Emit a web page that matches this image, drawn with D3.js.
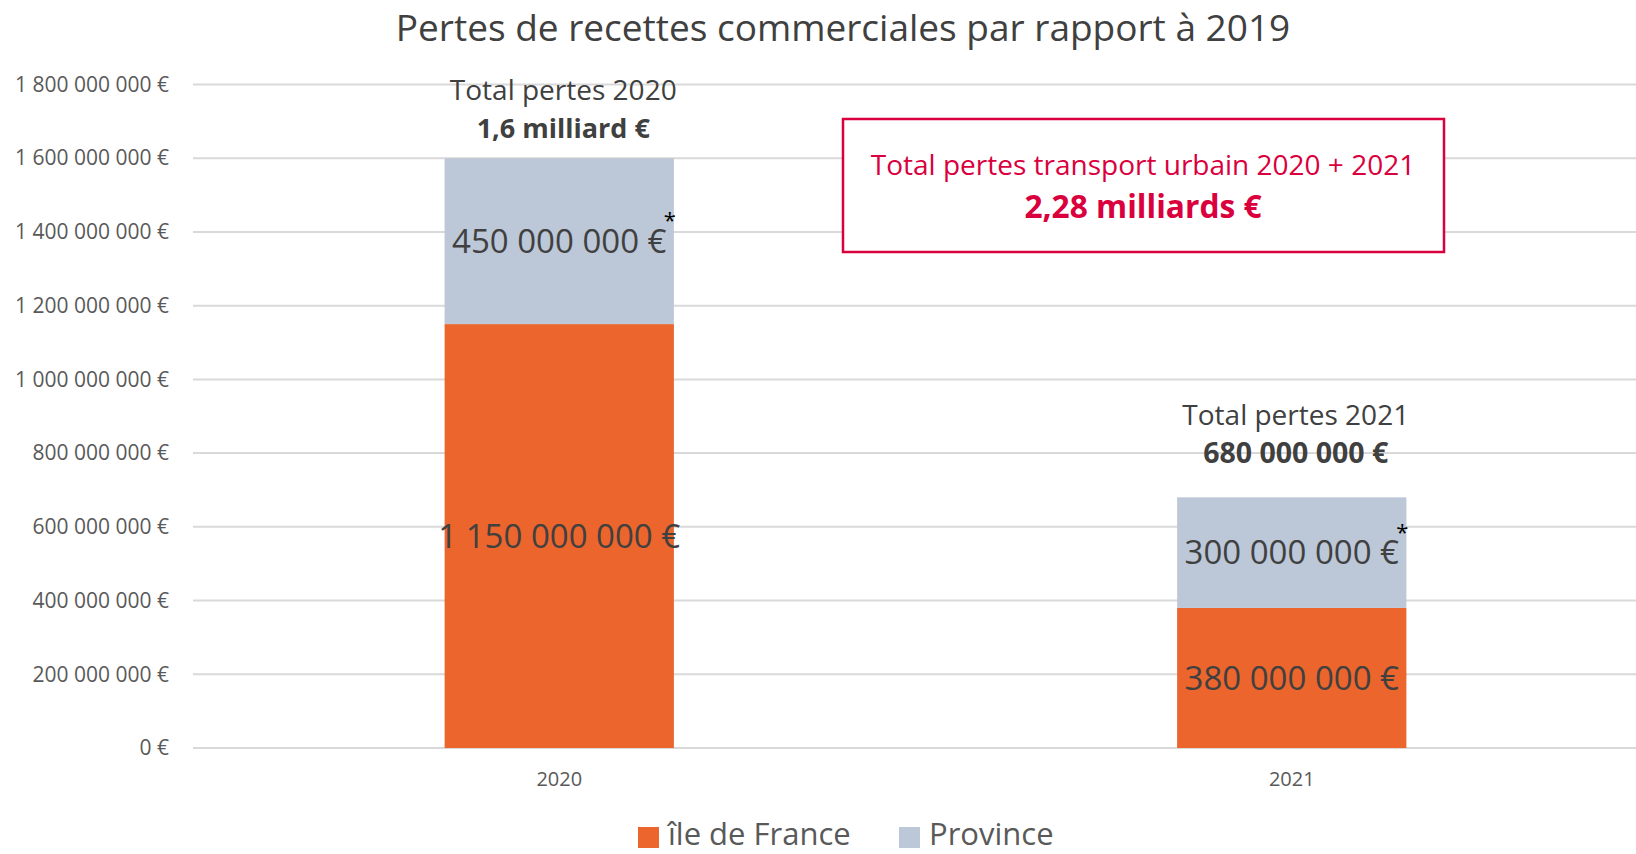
<!DOCTYPE html>
<html>
<head>
<meta charset="utf-8">
<script src="https://cdn.jsdelivr.net/npm/d3@7"></script>
<style>
  body { margin: 0; background: #fff; }
  text { font-family: "Open Sans", sans-serif; }
</style>
</head>
<body>
<script>
// data
var years = ["2020", "2021"];
var ileDeFrance = [1150000000, 380000000];
var province = [450000000, 300000000];
var seriesNames = ["île de France", "Province"];
var seriesColors = ["#eb652c", "#bcc7d7"];
var yTicks = [0, 200000000, 400000000, 600000000, 800000000, 1000000000, 1200000000, 1400000000, 1600000000, 1800000000];
var totalTitles = ["Total pertes 2020", "Total pertes 2021"];
var totalValues = ["1,6 milliard €", "680 000 000 €"];
var boxLines = ["Total pertes transport urbain 2020 + 2021", "2,28 milliards €"];

var W = 1636, H = 854;
var svg = d3.select("body")
            .append("svg")
            .attr("width", W)
            .attr("height", H);

var fr = d3.formatLocale({decimal: ",", thousands: " ", grouping: [3], currency: ["", " €"]});
var fmt = fr.format("$,.0f");

var x = d3.scaleBand()
    .domain(years)
    .range([193, 1658])
    .paddingInner(0.687)
    .paddingOuter(0.3435);

var y = d3.scaleLinear()
    .domain([0, 1800000000])
    .range([748, 84.5]);

// grid
svg.append("g")
    .selectAll("line")
    .data(yTicks)
    .enter().append("line")
    .attr("x1", 193)
    .attr("x2", W)
    .attr("y1", d => y(d))
    .attr("y2", d => y(d))
    .attr("stroke", "#d9d9d9")
    .attr("stroke-width", 2);

// y axis labels
var yAxis = d3.axisLeft(y).tickValues(yTicks).tickFormat(fmt).tickSize(0).tickPadding(0);
var gy = svg.append("g").attr("transform", "translate(169,0)").call(yAxis);
gy.select(".domain").remove();
gy.selectAll("text")
    .attr("fill", "#595959")
    .style("font-size", "21px");

// x axis labels
var xAxis = d3.axisBottom(x).tickSize(0).tickPadding(0);
var gx = svg.append("g").attr("transform", "translate(0,772)").call(xAxis);
gx.select(".domain").remove();
gx.selectAll("text")
    .attr("fill", "#595959")
    .style("font-size", "20px");

// stacked bars
var rows = years.map((yr, i) => ({year: yr, idf: ileDeFrance[i], prov: province[i]}));
var stack = d3.stack().keys(["idf", "prov"]);
var layers = stack(rows);

var gLayers = svg.append("g")
    .selectAll("g")
    .data(layers)
    .enter().append("g")
    .attr("fill", (d, i) => seriesColors[i]);

gLayers.selectAll("rect")
    .data(d => d)
    .enter().append("rect")
    .attr("x", d => x(d.data.year))
    .attr("width", x.bandwidth())
    .attr("y", d => y(d[1]))
    .attr("height", d => y(d[0]) - y(d[1]));

// segment labels
gLayers.selectAll("text")
    .data(d => d)
    .enter().append("text")
    .attr("x", d => x(d.data.year) + x.bandwidth() / 2)
    .attr("y", d => y((d[0] + d[1]) / 2))
    .attr("dy", "0.35em")
    .attr("text-anchor", "middle")
    .attr("fill", "#404040")
    .style("font-size", "33px")
    .text(d => fmt(d[1] - d[0]));

// asterisks on province labels
svg.append("g")
    .selectAll("text")
    .data(layers[1])
    .enter().append("text")
    .attr("x", d => x(d.data.year) + x.bandwidth() - 4)
    .attr("y", d => y((d[0] + d[1]) / 2) - 13)
    .attr("text-anchor", "middle")
    .attr("fill", "#000")
    .style("font-size", "22px")
    .text("*");

// totals above bars
var totalOffsets = [68, 82];
var gTot = svg.append("g")
    .selectAll("g")
    .data(rows)
    .enter().append("g")
    .attr("transform", (d, i) => "translate(" + (x(d.year) + x.bandwidth() / 2 + 4) + "," + (y(d.idf + d.prov) - totalOffsets[i]) + ")");

gTot.append("text")
    .attr("text-anchor", "middle")
    .attr("dy", "0.35em")
    .attr("fill", "#404040")
    .style("font-size", "28px")
    .text((d, i) => totalTitles[i]);

gTot.append("text")
    .attr("text-anchor", "middle")
    .attr("y", 38)
    .attr("dy", "0.35em")
    .attr("fill", "#404040")
    .style("font-size", (d, i) => i === 0 ? "27px" : "28.5px")
    .style("font-weight", "bold")
    .text((d, i) => totalValues[i]);

// red box
svg.append("rect")
    .attr("x", 843)
    .attr("y", 119)
    .attr("width", 601)
    .attr("height", 133)
    .attr("fill", "#fff")
    .attr("stroke", "#d9003d")
    .attr("stroke-width", 2.5);

svg.append("text")
    .attr("x", 1143)
    .attr("y", 165)
    .attr("dy", "0.35em")
    .attr("text-anchor", "middle")
    .attr("fill", "#d9003d")
    .style("font-size", "28px")
    .text(boxLines[0]);

svg.append("text")
    .attr("x", 1143)
    .attr("y", 207)
    .attr("dy", "0.35em")
    .attr("text-anchor", "middle")
    .attr("fill", "#d9003d")
    .style("font-size", "31.7px")
    .style("font-weight", "bold")
    .text(boxLines[1]);

// title
svg.append("text")
    .attr("x", 843)
    .attr("y", 28)
    .attr("dy", "0.35em")
    .attr("text-anchor", "middle")
    .attr("fill", "#404040")
    .style("font-size", "37px")
    .text("Pertes de recettes commerciales par rapport à 2019");

// legend
var legendX = [638, 899];
var gLeg = svg.append("g")
    .selectAll("g")
    .data(seriesNames)
    .enter().append("g")
    .attr("transform", (d, i) => "translate(" + legendX[i] + ",827)");

gLeg.append("rect")
    .attr("width", 21)
    .attr("height", 21)
    .attr("fill", (d, i) => seriesColors[i]);

gLeg.append("text")
    .attr("x", 30)
    .attr("y", 7)
    .attr("dy", "0.35em")
    .attr("fill", "#595959")
    .style("font-size", "31px")
    .text(d => d);
</script>
</body>
</html>
